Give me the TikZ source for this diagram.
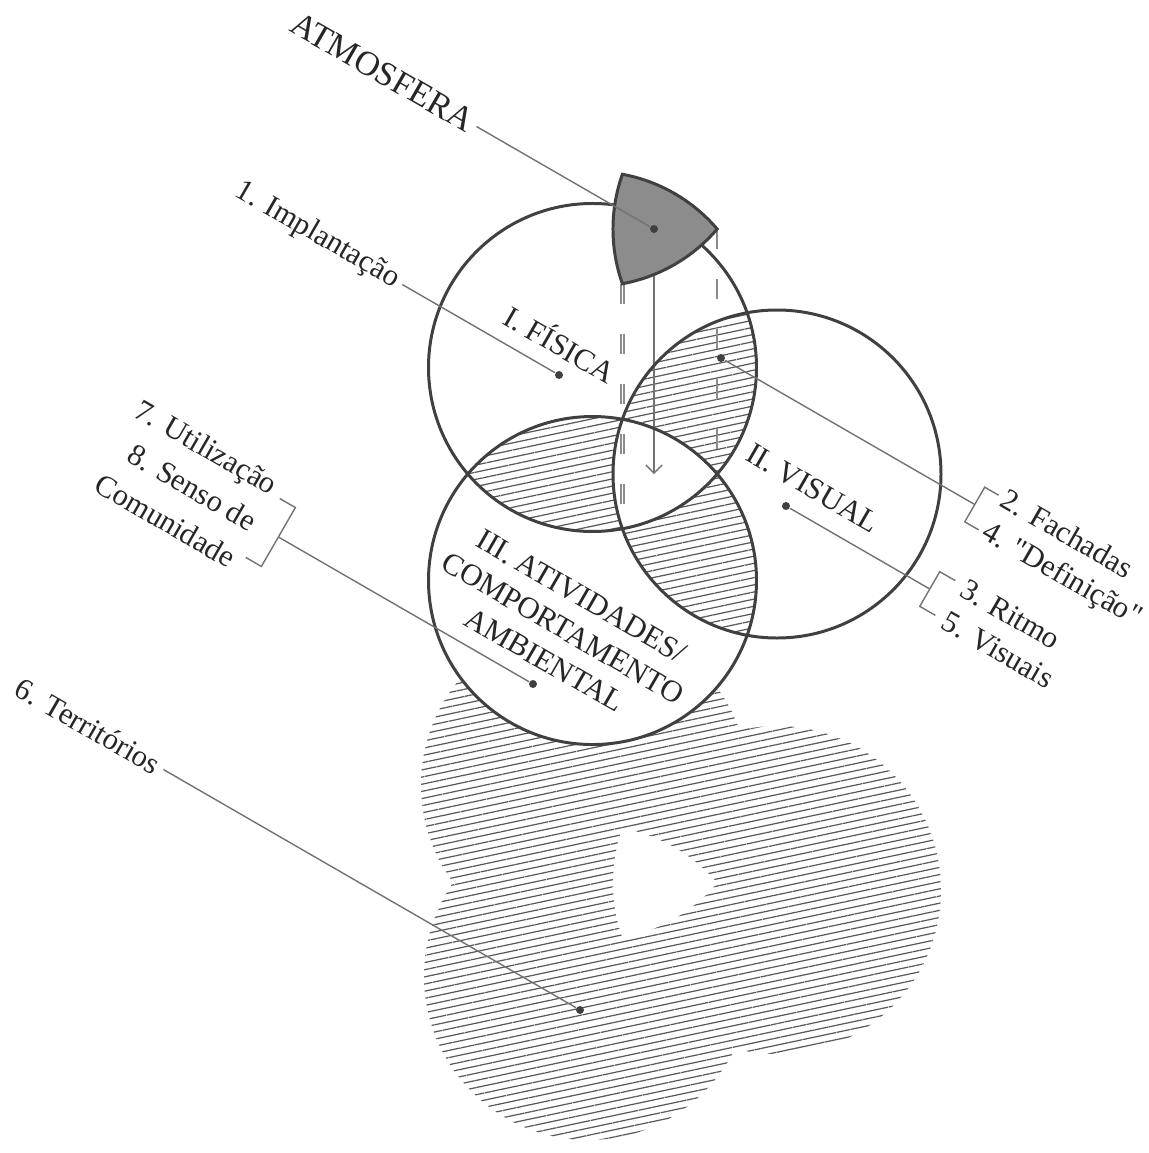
\documentclass[tikz,border=0pt]{standalone}
\usepackage{fontspec}
\setmainfont{Liberation Serif}[Ligatures=TeXOff]
\usetikzlibrary{calc,patterns.meta,arrows.meta}

% the curved triangle left where three rings meet
\newcommand{\trishape}[1]{(#1) ++(0:63.2) arc[start angle=40.5,end angle=79.5,radius=164] arc[start angle=160.5,end angle=199.5,radius=164] arc[start angle=280.5,end angle=319.5,radius=164] -- cycle}

\begin{document}
\begin{tikzpicture}[x=0.1mm,y=0.1mm,>=Straight Barb,
  ring/.style={draw=black!75,line width=0.85pt},
  hatch/.style={pattern={Lines[angle=12,distance=0.7mm,line width=0.35pt]},pattern color=black!65},
  lead/.style={draw=black!55,line width=0.4pt},
  proj/.style={draw=black!45,line width=0.45pt,dash pattern=on 2mm off 3mm},
  lbl/.style={text=black!85,font=\fontsize{8.7}{10.5}\selectfont,rotate=-30,inner sep=1.5pt},
  pt/.style={circle,fill=black!75,inner sep=0pt,minimum size=0.8mm}]
\useasboundingbox (0,0) rectangle (1149,-1153);
\coordinate (G) at (654,-474);
\coordinate (GA) at (654,-229);
\coordinate (GB) at (654,-883);
\foreach \n/\a in {I/120,II/0,III/240}{\coordinate (c\n) at ($(G)+(\a:123)$);};
\coordinate (bI) at (585,-785);
\coordinate (bII) at (777,-890);
\coordinate (bIII) at (588,-976);
\foreach \n/\a in {0/0,2/240}{\coordinate (va\n) at ($(GA)+(\a:63.2)$); \coordinate (vg\n) at ($(G)+(\a:63.2)$);};
% territorios
\fill[hatch] (bI) circle (164) (bII) circle (164) (bIII) circle (164);
\fill[white] \trishape{GB};
% the three rings
\fill[white] (cI) circle (164) (cII) circle (164) (cIII) circle (164);
\begin{scope}\clip (cI) circle (164); \fill[hatch] (cII) circle (164) (cIII) circle (164);\end{scope}
\begin{scope}\clip (cII) circle (164); \fill[hatch] (cIII) circle (164);\end{scope}
\fill[white] \trishape{G};
\draw[proj,line width=0.35pt,double=white,double distance=0.5pt] (va2) -- (vg2);
\draw[proj] (va0) -- (vg0);
\draw[lead,->] (GA) -- (G);
\foreach \c in {cI,cII,cIII}{\draw[ring] (\c) circle (164);};
\filldraw[ring,fill=black!45] \trishape{GA};
% dots
\node[pt] (atmdot) at (GA) {};
\node[pt] (fisdot) at (559,-375) {};
\node[pt] (fvdot) at (721,-358) {};
\node[pt] (visdot) at (786,-506) {};
\node[pt] (atvdot) at (533,-684) {};
\node[pt] (terdot) at (580,-1010) {};
% labels
\node[lbl] (fislbl) at (561,-343) {I. FÍSICA};
\node[lbl] (vislbl) at (813,-488) {II. VISUAL};
\node[lbl,align=center] (atvlbl) at (563,-628) {III. ATIVIDADES/\\COMPORTAMENTO\\AMBIENTAL};
\node[lbl,anchor=east,font=\fontsize{9.8}{11}\selectfont] (atmlbl) at ($(atmdot)+(150:205)$) {ATMOSFERA};
\draw[lead] (atmlbl.east) -- (atmdot);
\node[lbl,anchor=east] (implbl) at ($(fisdot)+(150:181)$) {1. Implantação};
\draw[lead] (implbl.east) -- (fisdot);
\node[lbl,anchor=east] (terlbl) at ($(terdot)+(150:481)$) {6. Territórios};
\draw[lead] (terlbl.east) -- (terdot);
% bracketed groups
\coordinate (fbr) at ($(fvdot)+(-30:293)$);
\draw[lead] (fvdot) -- (fbr);
\draw[lead] (fbr) ++(60:20) ++(-30:16) -- ++(150:16) -- ++(240:40) -- ++(-30:16);
\node[lbl,anchor=west,align=left,inner sep=1pt] (fachlbl) at ($(fbr)+(-30:17)$) {2. Fachadas\\4. "Definição"};
\coordinate (rbr) at ($(visdot)+(-30:166)$);
\draw[lead] (visdot) -- (rbr);
\draw[lead] (rbr) ++(60:20) ++(-30:18) -- ++(150:18) -- ++(240:40) -- ++(-30:18);
\node[lbl,anchor=west,align=left] (ritlbl) at ($(rbr)+(-30:22)$) {3. Ritmo\\5. Visuais};
\coordinate (ubr) at ($(atvdot)+(150:294)$);
\draw[lead] (atvdot) -- (ubr);
\draw[lead] (ubr) ++(60:34) ++(150:18) -- ++(-30:18) -- ++(240:68) -- ++(150:18);
\node[lbl,anchor=east,align=right,font=\fontsize{8.7}{12}\selectfont] (utilbl) at ($(ubr)+(150:22)$) {7. Utilização\\8. Senso de\\Comunidade};
\end{tikzpicture}
\end{document}
